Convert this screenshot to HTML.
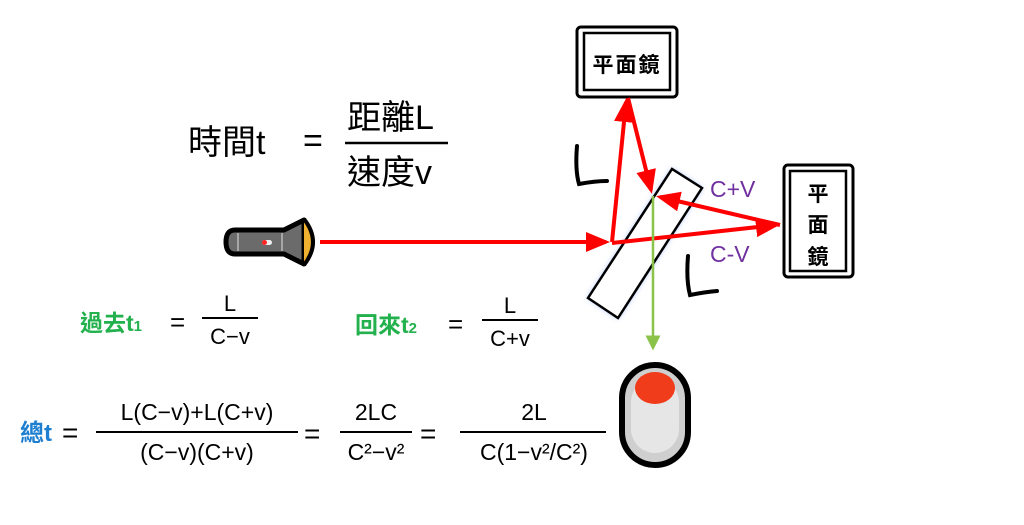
<!DOCTYPE html>
<html><head><meta charset="utf-8"><style>
html,body{margin:0;padding:0;background:#fff;width:1024px;height:525px;overflow:hidden}
svg text{font-family:"Liberation Sans","Noto Sans CJK TC",sans-serif}
</style></head><body>
<svg width="1024" height="525" viewBox="0 0 1024 525" xmlns="http://www.w3.org/2000/svg">
<defs>
<marker id="ar" markerWidth="6" markerHeight="6" refX="5" refY="3" orient="auto" markerUnits="strokeWidth"><path d="M0,0.5 L6,3 L0,5.5 z" fill="#f00"/></marker>
<marker id="ag" markerWidth="6" markerHeight="6" refX="5" refY="3" orient="auto" markerUnits="strokeWidth"><path d="M0,0 L6,3 L0,6 z" fill="#8bc34a"/></marker>
<filter id="glow" x="-50%" y="-50%" width="200%" height="200%"><feGaussianBlur stdDeviation="3"/></filter>
</defs>

<rect x="577" y="27" width="100" height="70" rx="4" fill="#fff" stroke="#000" stroke-width="3"/>
<rect x="584" y="33" width="86" height="57" fill="none" stroke="#000" stroke-width="2.5"/>
<text x="627" y="72" font-size="21" text-anchor="middle" font-weight="bold" letter-spacing="2">平面鏡</text>
<rect x="784" y="165" width="69" height="112" rx="4" fill="#fff" stroke="#000" stroke-width="3"/>
<rect x="790" y="171" width="56" height="100" fill="none" stroke="#000" stroke-width="2.5"/>
<text x="818" y="201" font-size="21" text-anchor="middle" font-weight="bold">平</text>
<text x="818" y="232" font-size="21" text-anchor="middle" font-weight="bold">面</text>
<text x="818" y="264" font-size="21" text-anchor="middle" font-weight="bold">鏡</text>

<polygon points="588,298 618,318 702,188 672,169" fill="#9bb8ff" filter="url(#glow)"/>
<polygon points="588,298 618,318 702,188 672,169" fill="#fff" stroke="#000" stroke-width="2.5"/>

<line x1="320" y1="242" x2="608" y2="242" stroke="#ffee66" stroke-width="12" opacity="0.6" filter="url(#glow)"/>
<line x1="320" y1="242" x2="606" y2="242" stroke="#f00" stroke-width="4" marker-end="url(#ar)"/>
<line x1="612" y1="242" x2="626" y2="102" stroke="#f00" stroke-width="4" marker-end="url(#ar)"/>
<line x1="628" y1="98" x2="651" y2="190" stroke="#f00" stroke-width="4" marker-end="url(#ar)"/>
<line x1="612" y1="243" x2="776" y2="225" stroke="#f00" stroke-width="4" marker-end="url(#ar)"/>
<line x1="780" y1="225" x2="660" y2="197" stroke="#f00" stroke-width="4" marker-end="url(#ar)"/>
<line x1="653" y1="196" x2="653" y2="348" stroke="#8bc34a" stroke-width="2.5" marker-end="url(#ag)"/>

<path d="M577,146 Q575,170 579,184 Q595,181 607,181" fill="none" stroke="#000" stroke-width="4" stroke-linecap="round"/>
<path d="M688,256 Q686,280 690,295 Q705,292 717,291" fill="none" stroke="#000" stroke-width="4" stroke-linecap="round"/>
<text x="710" y="197" font-size="23" fill="#7030a0">C+V</text>
<text x="710" y="262" font-size="23" fill="#7030a0">C-V</text>

<!-- flashlight -->
<path d="M235,230 L284,230 L304,220 L304,264 L284,254 L235,254 Q226,254 226,242 Q226,230 235,230 Z" fill="#6b6b6b" stroke="#000" stroke-width="5" stroke-linejoin="round"/>
<path d="M304,219 Q322,242 304,265" fill="#f0b030" stroke="#000" stroke-width="4"/>
<line x1="238" y1="233" x2="238" y2="251" stroke="#bbb" stroke-width="1.5"/>
<line x1="282" y1="233" x2="282" y2="251" stroke="#bbb" stroke-width="1.5"/>
<rect x="262" y="240" width="10" height="5" rx="2.5" fill="#eee"/>
<rect x="262" y="240" width="5" height="5" rx="2.5" fill="#f22"/>

<rect x="622" y="365" width="66" height="100" rx="33" fill="#cfcfcf" stroke="#000" stroke-width="6"/>
<rect x="631" y="378" width="48" height="75" rx="24" fill="#e6e6e6"/>
<ellipse cx="655" cy="388" rx="20" ry="16" fill="#f03c1a"/>

<g font-size="34" fill="#000">
<text x="188" y="154">時間t</text>
<text x="303" y="152">=</text>
<text x="347" y="129">距離L</text>
<text x="347" y="184">速度v</text>
</g>
<line x1="345" y1="143" x2="448" y2="143" stroke="#000" stroke-width="2.5"/>

<text x="80" y="331" font-size="23" fill="#22b14c" font-weight="bold">過去t<tspan font-size="15">1</tspan></text>
<text x="170" y="331" font-size="26">=</text>
<text x="230" y="311" font-size="22" text-anchor="middle">L</text>
<line x1="202" y1="318" x2="258" y2="318" stroke="#000" stroke-width="2"/>
<text x="230" y="344" font-size="22" text-anchor="middle">C−v</text>
<text x="355" y="333" font-size="23" fill="#22b14c" font-weight="bold">回來t<tspan font-size="15">2</tspan></text>
<text x="448" y="333" font-size="26">=</text>
<text x="510" y="313" font-size="22" text-anchor="middle">L</text>
<line x1="482" y1="320" x2="538" y2="320" stroke="#000" stroke-width="2"/>
<text x="510" y="346" font-size="22" text-anchor="middle">C+v</text>

<text x="20" y="441" font-size="24" fill="#1e7fd0" font-weight="bold">總t</text>
<text x="62" y="442" font-size="28">=</text>
<g font-size="23" text-anchor="middle">
<text x="197" y="420">L(C−v)+L(C+v)</text>
<text x="197" y="460">(C−v)(C+v)</text>
<text x="376" y="420">2LC</text>
<text x="376" y="460">C²−v²</text>
<text x="534" y="420">2L</text>
<text x="534" y="460">C(1−v²/C²)</text>
</g>
<line x1="96" y1="432" x2="298" y2="432" stroke="#000" stroke-width="2"/>
<text x="304" y="443" font-size="28">=</text>
<line x1="340" y1="432" x2="412" y2="432" stroke="#000" stroke-width="2"/>
<text x="420" y="443" font-size="28">=</text>
<line x1="460" y1="432" x2="606" y2="432" stroke="#000" stroke-width="2"/>
</svg>
</body></html>
